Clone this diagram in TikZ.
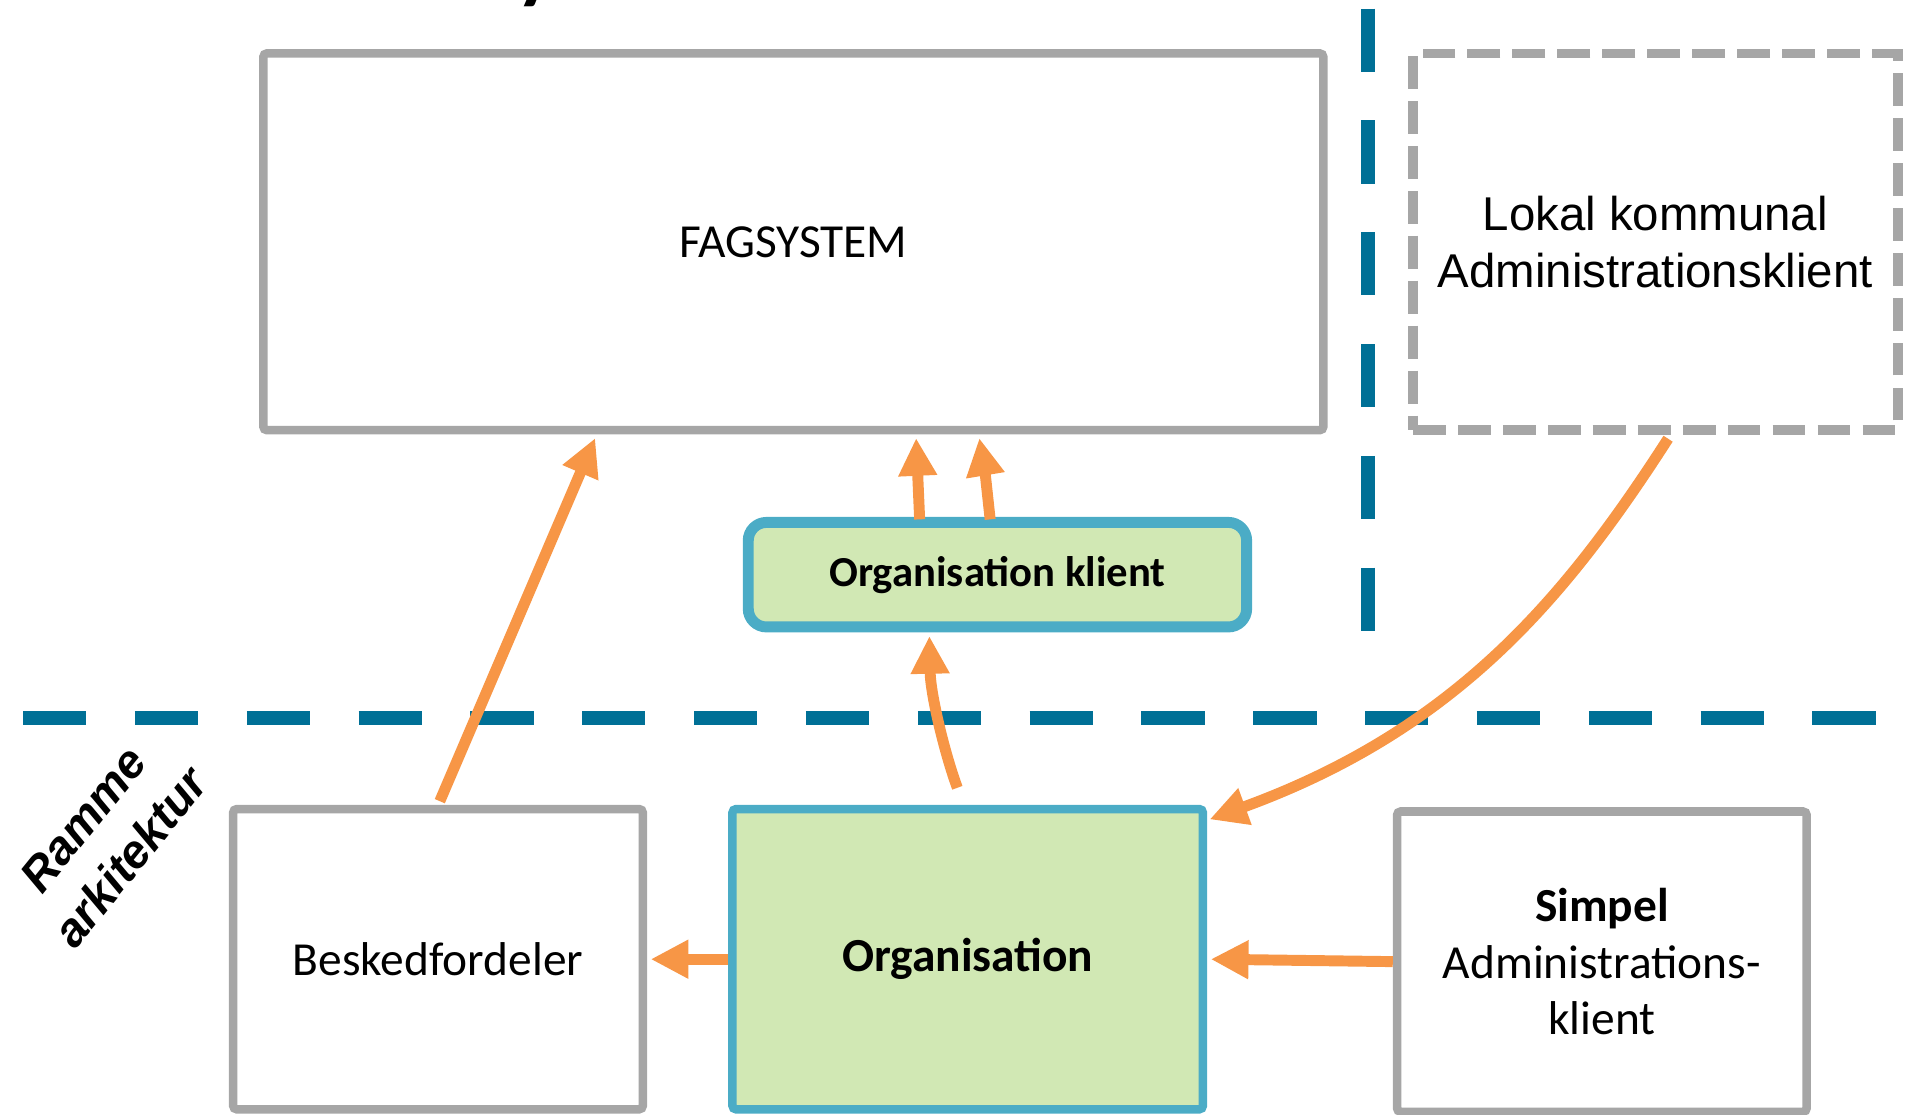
\documentclass[tikz,border=0pt]{standalone}
\usepackage{fontspec}
\setmainfont{Carlito}
\newfontfamily\arialf{Liberation Sans}
\usetikzlibrary{arrows.meta,calc}
\definecolor{boxgray}{HTML}{A6A6A6}
\definecolor{sepblue}{HTML}{007096}
\definecolor{arrorange}{HTML}{F79646}
\definecolor{orggreen}{HTML}{D1E8B4}
\definecolor{orgblue}{HTML}{4BACC6}
\begin{document}
\begin{tikzpicture}[x=0.01cm,y=-0.01cm,
  txt/.style={font=\fontsize{11.1}{13.3}\selectfont, align=center},
  graybox/.style={txt, draw=boxgray, line width=0.07cm, fill=white, rounded corners=0.03cm, inner sep=0pt},
  dashbox/.style={txt, font=\arialf\fontsize{11.1}{13.3}\selectfont, draw=boxgray, line width=0.08cm, dash pattern=on 0.27cm off 0.10cm, inner sep=0pt},
  greenbox/.style={txt, draw=orgblue, fill=orggreen, line width=0.07cm, rounded corners=0.03cm, inner sep=0pt},
  sepline/.style={draw=sepblue, line width=0.12cm, dash pattern=on 0.52cm off 0.40cm},
  conn/.style={draw=arrorange, line width=0.09cm, -{Triangle[length=0.31cm,width=0.30cm]}}
]
\useasboundingbox (0,0) rectangle (1568,917);

% partially visible title letter
\node[font=\fontsize{28}{30}\selectfont, anchor=base west, inner sep=0pt] (ttl) at (420,-10) {y};

% separators
\coordinate (hl1) at (19,591);
\coordinate (hl2) at (1547,591);
\coordinate (vl1) at (1126,7);
\coordinate (vl2) at (1126,519);
\draw[sepline] (hl1) -- (hl2);
\draw[sepline] (vl1) -- (vl2);

% boxes
\node[graybox, minimum width=8.72cm, minimum height=3.10cm] (fag) at (653,199) {FAGSYSTEM};
\node[dashbox, minimum width=3.99cm, minimum height=3.10cm] (lokal) at (1362.5,199) {Lokal kommunal\\Administrationsklient};
\node[greenbox, line width=0.09cm, rounded corners=0.15cm, minimum width=4.10cm, minimum height=0.86cm, font=\bfseries\fontsize{10}{12}\selectfont] (klient) at (821,473) {Organisation klient};
\node[graybox, minimum width=3.37cm, minimum height=2.47cm] (besked) at (360.5,789.5) {Beskedfordeler};
\node[greenbox, minimum width=3.87cm, minimum height=2.47cm, font=\bfseries\fontsize{11.1}{13.3}\selectfont] (org) at (796.5,789.5) {Organisation};
\node[graybox, minimum width=3.37cm, minimum height=2.47cm] (simpel) at (1318.5,791.5) {\textbf{Simpel}\\Administrations-\\klient};

% side label
\node[font=\arialf\bfseries\itshape\fontsize{11}{14.2}\selectfont, align=center, rotate=51] (ramme) at (88,690) {Ramme\\arkitektur};

% connectors
\draw[conn] ([xshift=0.015cm,yshift=0.03cm]besked.north) -- ([xshift=-1.63cm,yshift=-0.03cm]fag.south);
\draw[conn] ([xshift=-0.64cm,yshift=-0.02cm]klient.north) -- ([xshift=1.01cm,yshift=-0.03cm]fag.south);
\draw[conn] ([xshift=-0.06cm,yshift=-0.02cm]klient.north) .. controls ([xshift=-0.10cm,yshift=0.35cm]klient.north) .. ([xshift=1.53cm,yshift=-0.03cm]fag.south);
\draw[conn] ([xshift=-0.085cm,yshift=0.14cm]org.north) .. controls ([xshift=-0.185cm,yshift=0.41cm]org.north) and ([xshift=-0.55cm,yshift=-0.52cm]klient.south) .. ([xshift=-0.56cm,yshift=-0.03cm]klient.south);
\draw[conn] ([xshift=0.105cm,yshift=-0.03cm]lokal.south) .. controls (1290,490) and (1200,600) .. ([xshift=0.02cm,yshift=-0.12cm]org.north east);
\draw[conn] (org.west) -- ([xshift=0.03cm]besked.east);
\draw[conn] (simpel.west) -- ([xshift=0.03cm]org.east);
\end{tikzpicture}
\end{document}
